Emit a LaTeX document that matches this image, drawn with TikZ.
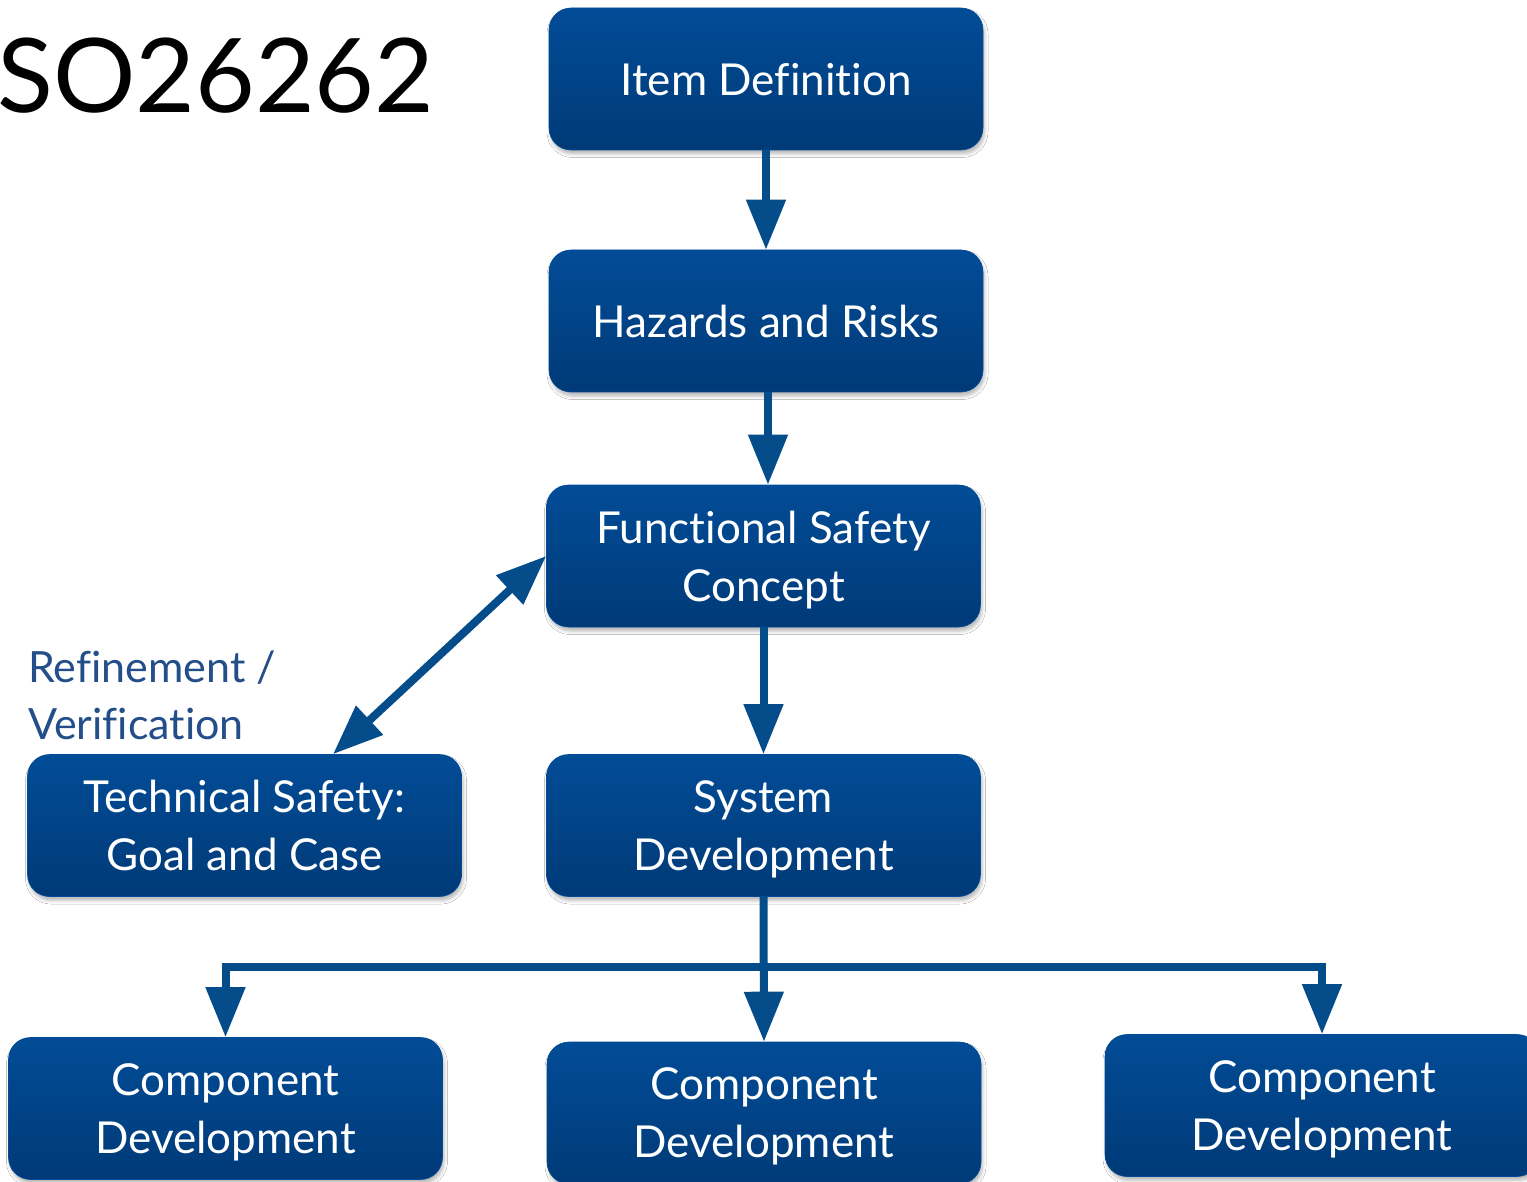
\documentclass[tikz,border=0pt]{standalone}
\usepackage{fontspec}
\setmainfont{Lato}[Ligatures=NoCommon]
\usetikzlibrary{arrows.meta,shadows.blur,calc}
\definecolor{boxtop}{HTML}{024C97}
\definecolor{boxbot}{HTML}{003A77}
\definecolor{arrowblue}{HTML}{044D8A}
\definecolor{labelblue}{HTML}{234E8A}
\tikzset{
  stagebox/.style={rounded corners=22pt, minimum width=434pt, minimum height=142pt,
    inner sep=0pt, top color=boxtop, bottom color=boxbot, draw=boxtop, line width=0.6pt,
    text=white, align=center, text depth=0pt, font=\fontsize{44}{58}\selectfont,
    blur shadow={shadow xshift=1.5pt, shadow yshift=-4pt, shadow blur radius=3.5pt, shadow opacity=28}},
  flow/.style={draw=arrowblue, line width=8pt},
  arr/.style={flow, -{Triangle[width=38pt,length=50pt]}},
  darr/.style={flow, {Triangle[width=38pt,length=50pt]}-{Triangle[width=38pt,length=50pt]}},
}
\begin{document}
\begin{tikzpicture}[x=1pt,y=-1pt]
\useasboundingbox (0,0) rectangle (1527,1182);
\fill[white] (0,0) rectangle (1527,1182);

% title
\node[anchor=base west, inner sep=0pt, font=\fontsize{103}{110}\selectfont] (title) at (-3,113) {SO26262};

% process boxes
\node[stagebox] (item) at (766,79) {Item Definition};
\node[stagebox] (haz)  at (766,321) {Hazards and Risks};
\node[stagebox] (fsc)  at (763.5,556) {Functional Safety\\Concept};
\node[stagebox] (tsg)  at (244.5,825.5) {Technical Safety:\\Goal and Case};
\node[stagebox] (sys)  at (763.5,825.5) {System\\Development};
\node[stagebox] (cl)   at (225.5,1108.5) {Component\\Development};
\node[stagebox] (cm)   at (764,1113) {Component\\Development};
\node[stagebox] (cr)   at (1322,1105.5) {Component\\Development};

% side label
\node[anchor=base west, inner sep=0pt, align=left, text=labelblue,
      font=\fontsize{43}{57}\selectfont] (lbl) at (28,739) {Refinement /\\Verification};

% main chain
\draw[arr] (item.south) -- (haz.north);
\draw[arr] (haz.south -| 768,0) -- (fsc.north -| 768,0);
\draw[arr] (fsc.south) -- (sys.north);

% refinement / verification link
\coordinate (tsgtip) at ([xshift=88.5pt]tsg.north);
\draw[darr] (fsc.west) -- (tsgtip);

% distribution to components
\coordinate (bus) at (0,967);
\draw[flow, line cap=rect] (cl.north |- bus) -- (cr.north |- bus);
\draw[arr] (sys.south) -- (cm.north);
\draw[arr, line join=miter] ([yshift=-4pt]cl.north |- bus) -- (cl.north);
\draw[arr, line join=miter] ([yshift=-4pt]cr.north |- bus) -- (cr.north);
\end{tikzpicture}
\end{document}
